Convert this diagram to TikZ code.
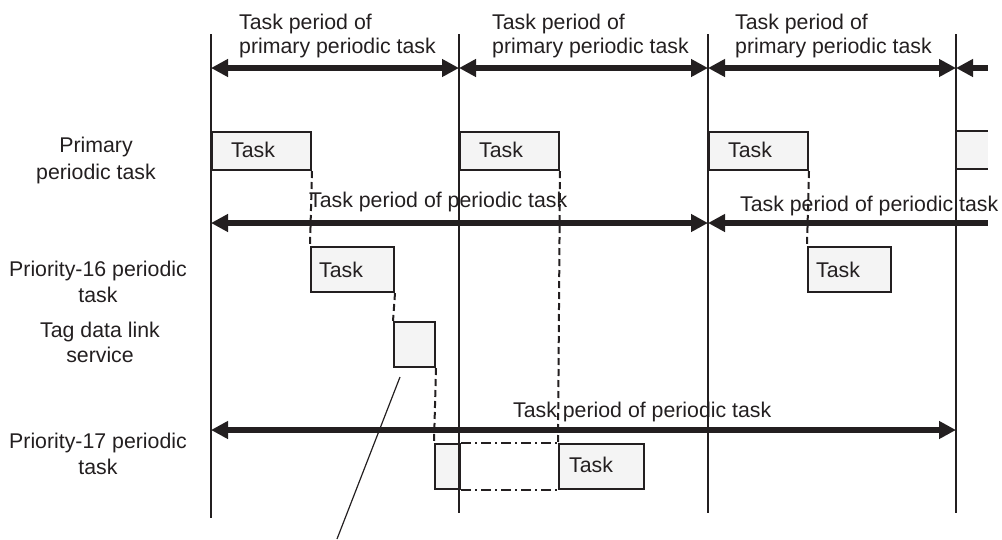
\documentclass[tikz,border=0pt]{standalone}
\usepackage{fontspec}
\setmainfont{Liberation Sans}
\usetikzlibrary{arrows.meta}
\definecolor{ink}{HTML}{231F20}
\definecolor{boxfill}{HTML}{F4F4F4}
\begin{document}
\begin{tikzpicture}[x=1pt,y=-1pt,
  txt/.style={font=\fontsize{21.3}{25}\selectfont, text=ink, inner sep=0pt},
  lbl/.style={txt, anchor=base},
  ltxt/.style={txt, anchor=base west},
  period/.style={draw=ink, line width=1.5pt},
  taskbox/.style={draw=ink, fill=boxfill, line width=2pt, rectangle, inner sep=0pt, anchor=north west},
  span/.style={draw=ink, line width=5.5pt},
  tip/.tip={Triangle[length=17pt,width=17pt]},
  dbl/.style={span, tip-tip},
  lft/.style={span, tip-},
  waitline/.style={draw=ink, line width=2pt, dash pattern=on 7pt off 4pt},
  pending/.style={draw=ink, line width=2pt, dash pattern=on 10pt off 4pt on 2pt off 4pt},
  callout/.style={draw=ink, line width=1.2pt}
]
\useasboundingbox (0,0) rectangle (1002,539);

% task boxes
\node[taskbox, minimum width=99pt, minimum height=38pt] (p1) at (211,131) {};
\node[taskbox, minimum width=99pt, minimum height=38pt] (p2) at (459,131) {};
\node[taskbox, minimum width=99pt, minimum height=38pt] (p3) at (708,131) {};
\node[fill=boxfill, rectangle, inner sep=0pt, anchor=north west, minimum width=32pt, minimum height=38pt] (p4) at (956,131) {};
\draw[draw=ink, line width=2pt] (p4.north west) -- (p4.north east);
\draw[draw=ink, line width=2pt] (p4.south west) -- (p4.south east);
\node[taskbox, minimum width=83pt, minimum height=45pt] (r1) at (310,246) {};
\node[taskbox, minimum width=83pt, minimum height=45pt] (r2) at (807,246) {};
\node[taskbox, minimum width=41pt, minimum height=45pt] (tag) at (393,321) {};
\node[taskbox, minimum width=25pt, minimum height=45pt] (s1) at (434,443) {};
\node[taskbox, minimum width=85pt, minimum height=45pt] (s2) at (558,443) {};

% box texts
\node[ltxt] (tp1) at (231,157) {Task};
\node[ltxt] (tp2) at (479,157) {Task};
\node[ltxt] (tp3) at (728,157) {Task};
\node[ltxt] (tr1) at (319,277) {Task};
\node[ltxt] (tr2) at (816,277) {Task};
\node[ltxt] (ts2) at (569,472) {Task};

% period lines
\coordinate (v1t) at (211,34); \coordinate (v1b) at (211,518);
\coordinate (v2t) at (459,34); \coordinate (v2b) at (459,513);
\coordinate (v3t) at (708,34); \coordinate (v3b) at (708,513);
\coordinate (v4t) at (956,34); \coordinate (v4b) at (956,513);
\draw[period] (v1t) -- (v1b);
\draw[period] (v2t) -- (v2b);
\draw[period] (v3t) -- (v3b);
\draw[period] (v4t) -- (v4b);

% dashed waits
\draw[waitline] (p1.south east) -- (r1.north west);
\draw[waitline] (p2.south east) -- (s2.north west);
\draw[waitline] (p3.south east) -- (r2.north west);
\draw[waitline] (r1.south east) -- (tag.north west);
\draw[waitline] (tag.south east) -- (s1.north west);
\draw[pending] (s1.north east) -- (s2.north west);
\draw[pending] (s1.south east) -- (s2.south west);

% period arrows
\coordinate (a1) at (211,68); \coordinate (a2) at (459,68);
\coordinate (a3) at (708,68); \coordinate (a4) at (956,68);
\coordinate (a5) at (988,68);
\draw[dbl] (a1) -- (a2);
\draw[dbl] (a2) -- (a3);
\draw[dbl] (a3) -- (a4);
\draw[lft] (a4) -- (a5);
\coordinate (m1) at (211,223); \coordinate (m3) at (708,223); \coordinate (m5) at (988,223);
\draw[dbl] (m1) -- (m3);
\draw[lft] (m3) -- (m5);
\coordinate (b1) at (211,430); \coordinate (b4) at (956,430);
\draw[dbl] (b1) -- (b4);

% arrow labels
\node[ltxt] (h1a) at (239,29) {Task period of};
\node[ltxt] (h1b) at (239,53) {primary periodic task};
\node[ltxt] (h2a) at (492,29) {Task period of};
\node[ltxt] (h2b) at (492,53) {primary periodic task};
\node[ltxt] (h3a) at (735,29) {Task period of};
\node[ltxt] (h3b) at (735,53) {primary periodic task};
\node[ltxt] (mt1) at (309,207) {Task period of periodic task};
\node[ltxt] (mt2) at (740,211) {Task period of periodic task};
\node[ltxt] (bt1) at (513,417) {Task period of periodic task};

% row labels
\node[lbl] (l1a) at (96,152) {Primary};
\node[lbl] (l1b) at (96,179) {periodic task};
\node[lbl] (l2a) at (98,276) {Priority-16 periodic};
\node[lbl] (l2b) at (98,302) {task};
\node[lbl] (l3a) at (100,337) {Tag data link};
\node[lbl] (l3b) at (100,362) {service};
\node[lbl] (l4a) at (98,448) {Priority-17 periodic};
\node[lbl] (l4b) at (98,474) {task};

% callout line
\coordinate (c1) at (400,377);
\coordinate (c2) at (337,539);
\draw[callout] (c1) -- (c2);
\end{tikzpicture}
\end{document}
